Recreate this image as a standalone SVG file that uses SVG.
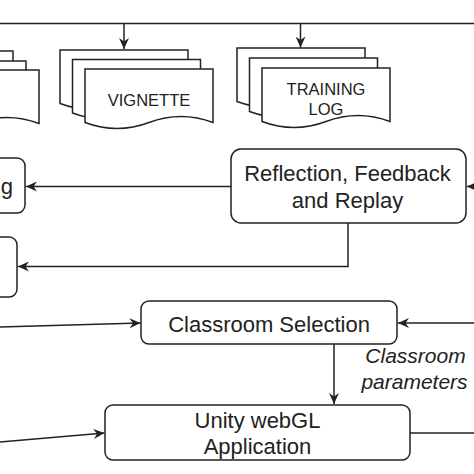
<svg xmlns="http://www.w3.org/2000/svg" width="474" height="474" viewBox="0 0 474 474">
<style>
.box{fill:#fff;stroke:#222;stroke-width:1.5}
.page{fill:#fff;stroke:#222;stroke-width:1.5;stroke-linejoin:miter}
.ln{fill:none;stroke:#222;stroke-width:1.5}
.t{font-family:"Liberation Sans",Arial,sans-serif;font-size:22px;fill:#222;text-anchor:middle}
.d{font-family:"Liberation Sans",Arial,sans-serif;font-size:16.5px;fill:#222;text-anchor:middle}
.i{font-family:"Liberation Sans",Arial,sans-serif;font-size:21px;font-style:italic;fill:#222;text-anchor:middle}
</style>
<defs>
<marker id="arr" viewBox="0 0 11 10" refX="11" refY="5" markerWidth="11" markerHeight="10" markerUnits="userSpaceOnUse" orient="auto">
<path d="M11,5 L0,0 L3.5,5 L0,10 Z" fill="#222"/>
</marker>
<path id="pg" d="M0,0 H128 V53.5 Q96,41.5 64,53.5 T0,53.5 Z"/>
</defs>
<rect width="474" height="474" fill="#fff"/>

<g id="connectors">
<path class="ln" d="M0,23.5 H474"/>
<path class="ln" d="M124,23.5 V49" marker-end="url(#arr)"/>
<path class="ln" d="M300.5,23.5 V47.5" marker-end="url(#arr)"/>
<path class="ln" d="M231,186.5 H26" marker-end="url(#arr)"/>
<path class="ln" d="M474,186.5 H467" marker-end="url(#arr)"/>
<path class="ln" d="M348,223 V266.5 H18" marker-end="url(#arr)"/>
<path class="ln" d="M0,327 L140.5,323" marker-end="url(#arr)"/>
<path class="ln" d="M474,323 H398" marker-end="url(#arr)"/>
<path class="ln" d="M334,344 V404" marker-end="url(#arr)"/>
<path class="ln" d="M0,442 L104.5,433" marker-end="url(#arr)"/>
<path class="ln" d="M410,433 H474"/>
</g>

<g id="left-docs">
<use href="#pg" class="page" transform="translate(-115,51)"/>
<use href="#pg" class="page" transform="translate(-102,61)"/>
<use href="#pg" class="page" transform="translate(-89,70)"/>
</g>

<g id="vignette">
<use href="#pg" class="page" transform="translate(60,50)"/>
<use href="#pg" class="page" transform="translate(72.5,59.5)"/>
<use href="#pg" class="page" transform="translate(85,69)"/>
<text class="d" x="149" y="106">VIGNETTE</text>
</g>

<g id="training-log">
<use href="#pg" class="page" transform="translate(237,48)"/>
<use href="#pg" class="page" transform="translate(249.5,58)"/>
<use href="#pg" class="page" transform="translate(262,68)"/>
<text class="d" x="326" y="95">TRAINING</text>
<text class="d" x="326" y="115">LOG</text>
</g>

<g id="left-box-1">
<rect class="box" x="-60" y="158" width="85" height="55" rx="8"/>
<text class="t" x="13" y="194" style="text-anchor:end">g</text>
</g>

<g id="left-box-2">
<rect class="box" x="-60" y="237" width="77" height="60" rx="8"/>
</g>

<g id="reflection">
<rect class="box" x="231" y="149" width="235" height="74" rx="10"/>
<text class="t" x="347.5" y="181">Reflection, Feedback</text>
<text class="t" x="347.5" y="208">and Replay</text>
</g>

<g id="classroom-selection">
<rect class="box" x="141" y="301" width="256" height="43" rx="8"/>
<text class="t" x="269" y="332">Classroom Selection</text>
</g>

<g id="classroom-parameters">
<text class="i" x="415.5" y="363">Classroom</text>
<text class="i" x="414.5" y="389">parameters</text>
</g>

<g id="unity">
<rect class="box" x="105" y="405" width="305" height="55" rx="8"/>
<text class="t" x="257.5" y="428">Unity webGL</text>
<text class="t" x="257.5" y="454">Application</text>
</g>
</svg>
